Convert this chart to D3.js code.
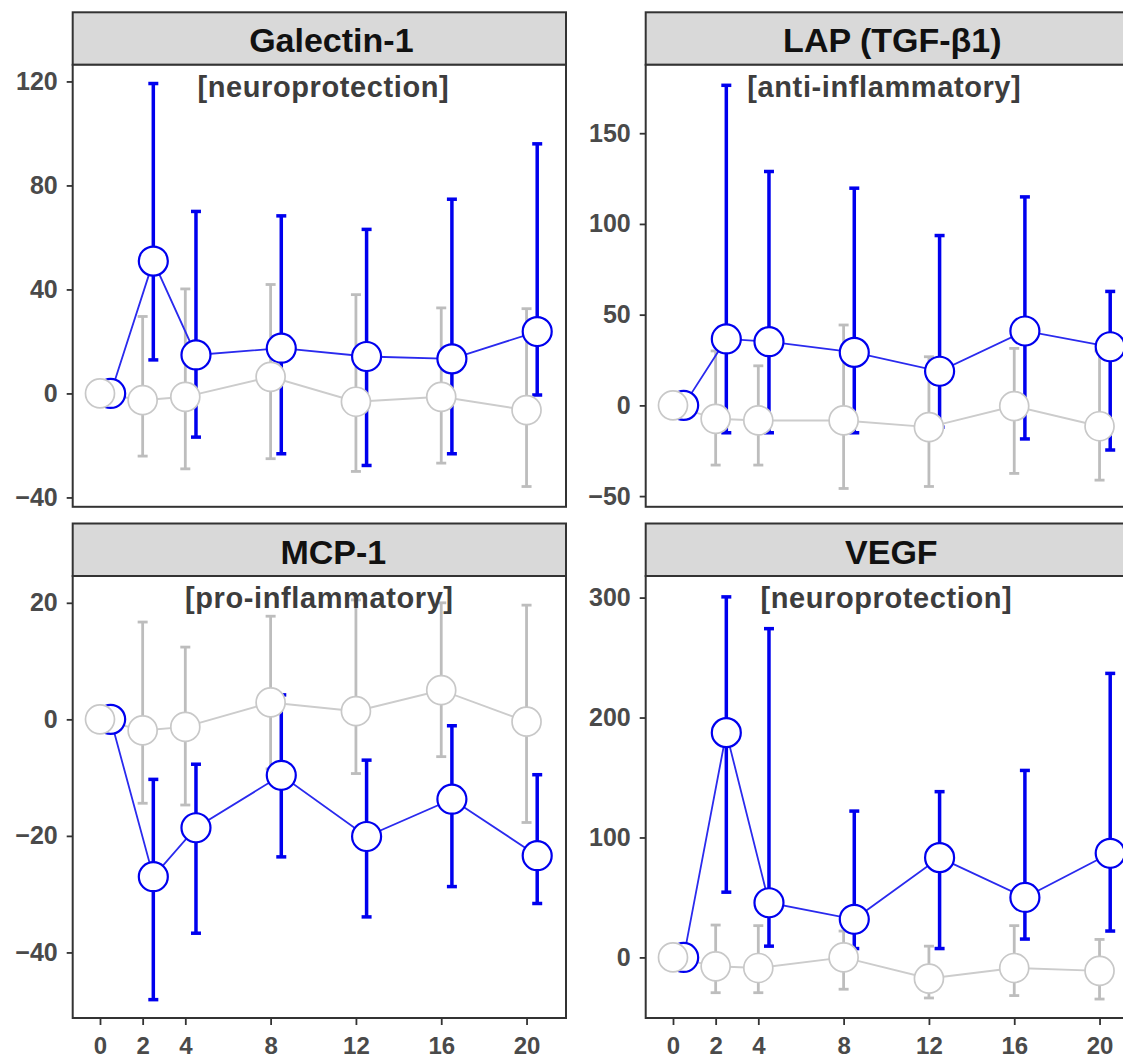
<!DOCTYPE html>
<html>
<head>
<meta charset="utf-8">
<script src="https://cdn.jsdelivr.net/npm/d3@7"></script>
<style>
  body { margin: 0; background: #fff; }
  svg { display: block; font-family: "Liberation Sans", Arial, sans-serif; }
</style>
</head>
<body>
<svg id="chart" width="1123" height="1060"></svg>
<script>
// time points (x axis) and panel labels
var times = [0, 2, 4, 8, 12, 16, 20];
var panelNames = ["Galectin-1", "LAP (TGF-\u03b21)", "MCP-1", "VEGF"];
var roles = ["[neuroprotection]", "[anti-inflammatory]", "[pro-inflammatory]", "[neuroprotection]"];

// Galectin-1
var galBlue   = [0, 50.9, 14.8, 17.4, 14.2, 13.3, 23.8];
var galBlueHi = [0, 119.2, 70, 68.3, 63.1, 74.7, 96];
var galBlueLo = [0, 12.9, -16.8, -23.2, -27.7, -23.2, -0.6];
var galGray   = [0, -2.6, -1.3, 6.4, -3.2, -1.3, -6.4];
var galGrayHi = [0, 29.6, 40.2, 41.9, 38, 32.9, 32.6];
var galGrayLo = [0, -24.1, -29, -25.1, -30, -26.8, -35.8];

// LAP (TGF-b1)
var lapBlue   = [0, 36.6, 35.1, 29.2, 18.8, 41, 32.3];
var lapBlueHi = [0, 176.4, 128.9, 119.7, 93.6, 114.9, 62.8];
var lapBlueLo = [0, -15.1, -15.1, -15.1, -12, -18.5, -24.6];
var lapGray   = [0, -7.4, -8.3, -8.3, -12, -0.4, -11.5];
var lapGrayHi = [0, 30, 21.8, 44.3, 26.8, 31.4, 30];
var lapGrayLo = [0, -32.9, -32.9, -45.8, -44.7, -37.5, -41.2];

// MCP-1
var mcpBlue   = [0, -27, -18.6, -9.6, -20.1, -13.7, -23.4];
var mcpBlueHi = [0, -10.3, -7.7, 4.2, -7, -1.1, -9.5];
var mcpBlueLo = [0, -48.1, -36.7, -23.6, -33.9, -28.7, -31.6];
var mcpGray   = [0, -1.9, -1.3, 2.9, 1.4, 5, -0.4];
var mcpGrayHi = [0, 16.7, 12.4, 17.7, 20.5, 20, 19.6];
var mcpGrayLo = [0, -14.4, -14.7, -8.5, -9.3, -6.4, -17.7];

// VEGF
var vegBlue   = [0, 187.4, 45.6, 31.8, 83.2, 50, 86.8];
var vegBlueHi = [0, 300.6, 274.1, 122, 138.2, 155.9, 236.8];
var vegBlueLo = [0, 54.4, 9.4, 7.4, 7.4, 15.3, 22];
var vegGray   = [0, -7.4, -8.8, 0, -17.6, -8.8, -11.2];
var vegGrayHi = [0, 27, 26.5, 22, 9.4, 26.5, 15];
var vegGrayLo = [0, -29.4, -29.4, -26.5, -33.8, -31.8, -34.7];

// axis settings
var xTicks = [0, 2, 4, 8, 12, 16, 20];
var yTicks = [[-40, 0, 40, 80, 120], [-50, 0, 50, 100, 150], [-40, -20, 0, 20], [0, 100, 200, 300]];
var yDomains = [[-43.6, 126.4], [-55.9, 187.7], [-51.25, 24.6], [-50.5, 318]];
var xDomain = [-1.28, 21.85];

var series = [
  { blue: [galBlue, galBlueLo, galBlueHi], gray: [galGray, galGrayLo, galGrayHi] },
  { blue: [lapBlue, lapBlueLo, lapBlueHi], gray: [lapGray, lapGrayLo, lapGrayHi] },
  { blue: [mcpBlue, mcpBlueLo, mcpBlueHi], gray: [mcpGray, mcpGrayLo, mcpGrayHi] },
  { blue: [vegBlue, vegBlueLo, vegBlueHi], gray: [vegGray, vegGrayLo, vegGrayHi] }
];

// layout
var colX = [72.7, 645.7], panelW = 493.3;
var rowY = [12.3, 523.5], stripH = 52.5, panelH = 442;
var titleDx = [12, 0, 14, -1];
var roleDx = [4, -8, 0, -6];
var blueShift = 0.5;
var BLUE = "#0000ee", GRAY = "#c8c8c8";

var svg = d3.select("#chart");

function toPoints(arr, shift) {
  var m = arr[0], lo = arr[1], hi = arr[2];
  return times.map(function(t, i) {
    return { t: t + shift, v: m[i], lo: lo[i], hi: hi[i] };
  });
}

function drawBars(g, pts, x, y, color, width) {
  var bars = g.append("g").selectAll("g")
    .data(pts.filter(function(d) { return d.hi != d.lo; }))
    .enter().append("g")
    .attr("stroke", color).attr("stroke-width", width);
  bars.append("line")
    .attr("x1", function(d) { return x(d.t); }).attr("x2", function(d) { return x(d.t); })
    .attr("y1", function(d) { return y(d.lo); }).attr("y2", function(d) { return y(d.hi); });
  bars.append("line")
    .attr("x1", function(d) { return x(d.t) - 5; }).attr("x2", function(d) { return x(d.t) + 5; })
    .attr("y1", function(d) { return y(d.hi); }).attr("y2", function(d) { return y(d.hi); });
  bars.append("line")
    .attr("x1", function(d) { return x(d.t) - 5; }).attr("x2", function(d) { return x(d.t) + 5; })
    .attr("y1", function(d) { return y(d.lo); }).attr("y2", function(d) { return y(d.lo); });
}

panelNames.forEach(function(name, i) {
  var col = i % 2, row = Math.floor(i / 2);
  var g = svg.append("g").attr("transform", "translate(" + colX[col] + "," + rowY[row] + ")");

  var x = d3.scaleLinear().domain(xDomain).range([0, panelW]);
  var y = d3.scaleLinear().domain(yDomains[i]).range([stripH + panelH, stripH]);

  // strip
  g.append("rect").attr("x", 0).attr("y", 0).attr("width", panelW).attr("height", stripH)
    .attr("fill", "#d9d9d9").attr("stroke", "#333").attr("stroke-width", 2);
  g.append("text").attr("x", panelW / 2 + titleDx[i]).attr("y", 40)
    .attr("text-anchor", "middle").attr("font-size", 34).attr("font-weight", "bold")
    .attr("fill", "#111").text(name);

  g.append("rect").attr("x", 0).attr("y", stripH).attr("width", panelW).attr("height", panelH)
    .attr("fill", "#fff");

  var blue = toPoints(series[i].blue, blueShift);
  var gray = toPoints(series[i].gray, 0);

  drawBars(g, blue, x, y, BLUE, 3.5);
  drawBars(g, gray, x, y, "#bdbdbd", 2.8);

  var line = d3.line().x(function(d) { return x(d.t); }).y(function(d) { return y(d.v); });
  g.append("path").datum(blue).attr("d", line).attr("fill", "none")
    .attr("stroke", "#2a2aee").attr("stroke-width", 1.8);
  g.append("path").datum(gray).attr("d", line).attr("fill", "none")
    .attr("stroke", "#cccccc").attr("stroke-width", 1.9);

  g.append("g").selectAll("circle").data(blue).enter().append("circle")
    .attr("cx", function(d) { return x(d.t); }).attr("cy", function(d) { return y(d.v); })
    .attr("r", 14.5).attr("fill", "#fff").attr("stroke", BLUE).attr("stroke-width", 2.2);
  g.append("g").selectAll("circle").data(gray).enter().append("circle")
    .attr("cx", function(d) { return x(d.t); }).attr("cy", function(d) { return y(d.v); })
    .attr("r", 14.5).attr("fill", "#fff").attr("stroke", GRAY).attr("stroke-width", 1.7);

  g.append("text").attr("x", panelW / 2 + roleDx[i]).attr("y", stripH + 32)
    .attr("text-anchor", "middle").attr("font-size", 29).attr("font-weight", "bold")
    .attr("letter-spacing", 0.6).attr("fill", "#3d3d3d").text(roles[i]);

  // panel border
  g.append("rect").attr("x", 0).attr("y", stripH).attr("width", panelW).attr("height", panelH)
    .attr("fill", "none").attr("stroke", "#333").attr("stroke-width", 2);

  var ya = g.append("g").call(d3.axisLeft(y).tickValues(yTicks[i]).tickSize(6).tickPadding(9));
  ya.select(".domain").remove();
  ya.selectAll("line").attr("stroke", "#333").attr("stroke-width", 1.8);
  ya.selectAll("text").attr("font-size", 25).attr("font-weight", "bold")
    .attr("font-family", "Liberation Sans, Arial, sans-serif").attr("fill", "#4a4a4a");

  if (row == 1) {
    var xa = g.append("g").attr("transform", "translate(0," + (stripH + panelH) + ")")
      .call(d3.axisBottom(x).tickValues(xTicks).tickSize(7).tickPadding(12));
    xa.select(".domain").remove();
    xa.selectAll("line").attr("stroke", "#333").attr("stroke-width", 1.8);
    xa.selectAll("text").attr("font-size", 24).attr("font-weight", "bold")
      .attr("font-family", "Liberation Sans, Arial, sans-serif").attr("fill", "#4a4a4a");
  }
});
</script>
</body>
</html>
